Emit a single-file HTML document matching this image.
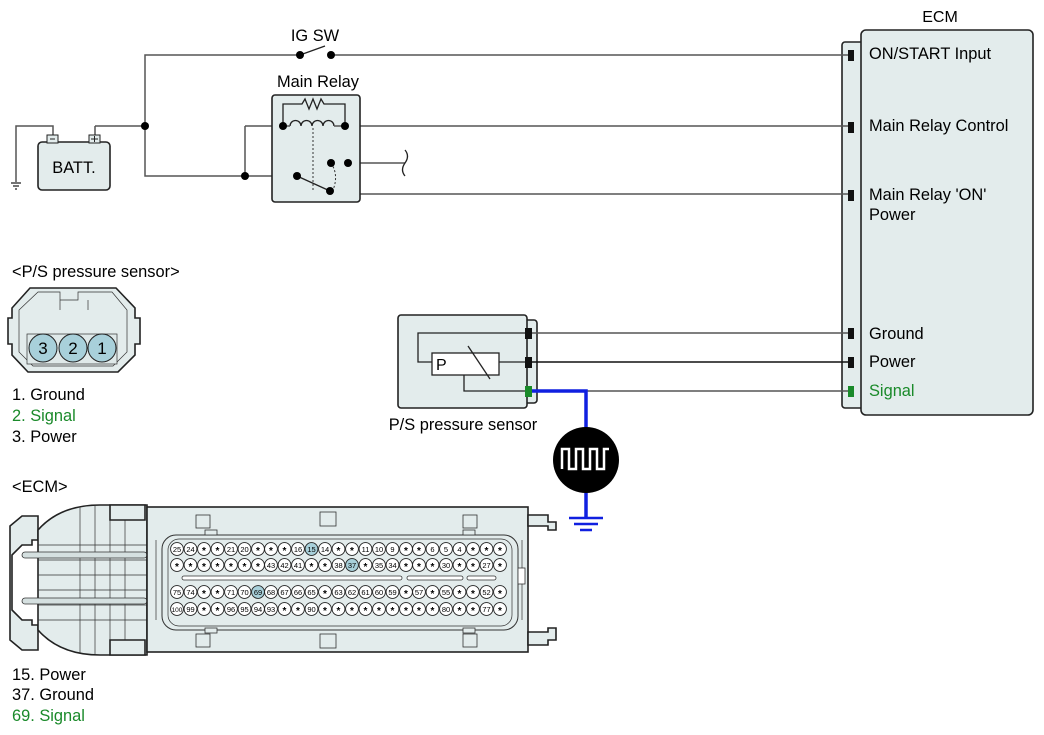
<!DOCTYPE html>
<html><head><meta charset="utf-8"><style>
html,body{margin:0;padding:0;background:#fff}
svg{display:block;font-family:"Liberation Sans",Arial,sans-serif}
.w{stroke:#555;stroke-width:1.5;fill:none}
.k{stroke:#222;stroke-width:1.3;fill:none}
.b{fill:#e3ecec;stroke:#222;stroke-width:1.6}
.p circle{fill:#fff;stroke:#222;stroke-width:0.9}
.p text{font-size:7.5px;text-anchor:middle}
.p text.s{font-size:10px;font-weight:bold}
.ln{stroke:#333;stroke-width:0.7;fill:none}
</style></head><body>
<svg width="1044" height="735" viewBox="0 0 1044 735" xmlns="http://www.w3.org/2000/svg">
<!-- ECM box -->
<rect x="842" y="42" width="24" height="366" rx="3" class="b" stroke-width="1"/>
<rect x="861" y="30" width="172" height="385" rx="5" class="b"/>
<text x="940" y="22" font-size="16" text-anchor="middle">ECM</text>
<g fill="#111"><rect x="848" y="50" width="6" height="11"/><rect x="848" y="122" width="6" height="11"/><rect x="848" y="190" width="6" height="11"/><rect x="848" y="328" width="6" height="11"/><rect x="848" y="357" width="6" height="11"/></g>
<rect x="848" y="386" width="6" height="11" fill="#1a8a2a"/>
<g font-size="16.4"><text x="869" y="59">ON/START Input</text><text x="869" y="131">Main Relay Control</text><text x="869" y="200">Main Relay 'ON'</text><text x="869" y="220">Power</text><text x="869" y="339">Ground</text><text x="869" y="367">Power</text><text x="869" y="396" fill="#1a8a2a">Signal</text></g>

<!-- IG SW -->
<text x="315" y="41" font-size="16.4" text-anchor="middle">IG SW</text>
<path class="w" d="M848 55H331M300 55H145V176H297M95 126H145M245 126V176M245 126H283M345 126H848M348 163H405M348 163V194H848"/>
<path class="k" d="M300 55L325 46"/>
<circle cx="300" cy="55" r="4"/><circle cx="331" cy="55" r="4"/>
<circle cx="145" cy="126" r="4"/><circle cx="245" cy="176" r="4"/>
<path d="M405 150q5 6 0 13t0 13" class="k"/>
<!-- relay -->
<text x="318" y="87" font-size="16.4" text-anchor="middle">Main Relay</text>
<rect x="272" y="95" width="88" height="107" rx="3" class="b"/>
<path class="k" d="M283 126V104H302l3-5 4 10 4-10 4 10 4-10 3 5H345V126"/>
<path class="k" d="M290 126a5.5 5.5 0 0 1 11 0a5.5 5.5 0 0 1 11 0a5.5 5.5 0 0 1 11 0a5.5 5.5 0 0 1 11 0"/>
<path class="w" d="M290 126H283M334 126H345"/>
<path d="M313 128V190" stroke="#333" stroke-dasharray="2,2" stroke-width="1"/>
<path d="M331 163q8 12 2 27" stroke="#333" stroke-dasharray="2,2" stroke-width="1" fill="none"/>
<path class="k" d="M297 176L330 191"/>
<g><circle cx="283" cy="126" r="4"/><circle cx="345" cy="126" r="4"/><circle cx="331" cy="163" r="4"/><circle cx="348" cy="163" r="4"/><circle cx="297" cy="176" r="4"/><circle cx="330" cy="191" r="4"/></g>
<!-- battery -->
<path class="w" d="M95 126V138M53 138V126H16V182"/>
<path class="k" d="M11 183H21M13 186H19M15 189H17"/>
<rect x="38" y="142" width="72" height="48" rx="4" class="b" stroke-width="1.2"/>
<rect x="47" y="135" width="11" height="8" fill="#e3ecec" stroke="#222"/>
<rect x="89" y="135" width="11" height="8" fill="#e3ecec" stroke="#222"/>
<path d="M50 139H55M91 139H98M94.5 136V142" stroke="#222"/>
<text x="74" y="173" font-size="16.4" text-anchor="middle">BATT.</text>

<!-- P/S sensor -->
<rect x="520" y="320" width="17" height="83" rx="3" class="b" stroke-width="1"/>
<rect x="398" y="315" width="129" height="93" rx="3" class="b"/>
<path class="w" d="M531 333H848M531 391H848"/>
<path d="M531 362H848" stroke="#111" stroke-width="1.5"/>
<path class="k" d="M526 333H418V362H432M499 362H526M464 375V391H526"/>
<rect x="432" y="353" width="67" height="22" fill="#fff" stroke="#222" stroke-width="1.3"/>
<text x="436" y="370" font-size="16">P</text>
<path class="k" d="M468 346L490 379"/>
<rect x="525" y="328" width="7" height="11" fill="#111"/><rect x="525" y="357" width="7" height="11" fill="#111"/><rect x="525" y="386" width="7" height="11" fill="#1a8a2a"/>
<text x="463" y="430" font-size="16.4" text-anchor="middle">P/S pressure sensor</text>
<path d="M532 391H586V517" stroke="#1020e0" stroke-width="3.5" fill="none"/>
<path d="M569 518H603M574 524H598M580 530H592" stroke="#1020e0" stroke-width="2.5"/>
<circle cx="586" cy="460" r="33" fill="#000"/>
<path d="M562 469V449H569V469H576V449H583V469H590V449H597V469H604V449H609" stroke="#fff" stroke-width="2.5" fill="none"/>

<!-- P/S connector view -->
<text x="12" y="277" font-size="16.4">&lt;P/S pressure sensor&gt;</text>
<path class="b" stroke-width="1" d="M30 288H116L135 308V318H140V344H135V355L118 372H28L12 355V344H8V318H12V308Z"/>
<path class="ln" d="M38 292H60V300H78V292H112L127 310V352L113 366H33L19 352V310ZM60 300V310M88 300V310"/>
<rect x="27" y="334" width="90" height="30" fill="#dfe9e9" stroke="#333" stroke-width="0.7"/>
<g fill="#a8d0da" stroke="#222" stroke-width="1"><circle cx="43" cy="348" r="14"/><circle cx="73" cy="348" r="14"/><circle cx="102" cy="348" r="14"/></g>
<g font-size="17" text-anchor="middle"><text x="43" y="354">3</text><text x="73" y="354">2</text><text x="102" y="354">1</text></g>
<g font-size="16.4"><text x="12" y="400">1. Ground</text><text x="12" y="421" fill="#1a8a2a">2. Signal</text><text x="12" y="442">3. Power</text><text x="12" y="492">&lt;ECM&gt;</text></g>

<!-- ECM connector -->
<path class="b" stroke-width="1" d="M22 516H38V540H32V545H22L12 555V610L22 620H32V625H38V650H22L10 640V526Z"/>
<path class="b" stroke-width="1" d="M38 530Q60 505 100 505H147V655H100Q60 655 38 630Z"/>
<path class="ln" d="M80 507V653M95 506V654M110 506V654M125 506V654M38 545H147M38 560H147M38 605H147M38 620H147M38 575H147M38 590H147"/>
<rect x="22" y="552" width="125" height="6" rx="3" fill="#d5e0e0" stroke="#333" stroke-width="0.8"/>
<rect x="22" y="598" width="125" height="6" rx="3" fill="#d5e0e0" stroke="#333" stroke-width="0.8"/>
<path class="b" stroke-width="0.8" d="M110 505H145V520H110ZM110 640H145V655H110Z"/>
<rect x="147" y="507" width="381" height="145" class="b" stroke-width="1"/>
<path class="b" stroke-width="1" d="M528 515H548V522H556V530H548V526H528ZM528 632H548V628H556V640H548V645H528Z"/>
<rect x="162" y="535" width="356" height="95" rx="14" fill="none" stroke="#333" stroke-width="1"/>
<rect x="168" y="539" width="344" height="87" rx="11" fill="none" stroke="#333" stroke-width="0.7"/>
<path class="ln" d="M156 540V620M522 540V620"/>
<rect x="518" y="568" width="7" height="16" fill="#fff" stroke="#333" stroke-width="0.8"/>
<g fill="#e3ecec" stroke="#333" stroke-width="0.8"><rect x="196" y="515" width="14" height="13"/><rect x="320" y="512" width="16" height="14"/><rect x="463" y="515" width="14" height="13"/><rect x="196" y="634" width="14" height="13"/><rect x="320" y="634" width="16" height="14"/><rect x="463" y="634" width="14" height="13"/><rect x="205" y="530" width="12" height="5"/><rect x="463" y="530" width="12" height="5"/><rect x="205" y="628" width="12" height="5"/><rect x="463" y="628" width="12" height="5"/></g>
<g fill="#fff" stroke="#333" stroke-width="0.8"><rect x="182" y="576" width="220" height="4" rx="2"/><rect x="407" y="576" width="56" height="4" rx="2"/><rect x="467" y="576" width="29" height="4" rx="2"/></g>

<g class="p">
<circle cx="177" cy="549" r="6.4"/><circle cx="190.5" cy="549" r="6.4"/><circle cx="204" cy="549" r="6.4"/><circle cx="217.5" cy="549" r="6.4"/><circle cx="231" cy="549" r="6.4"/><circle cx="244.5" cy="549" r="6.4"/><circle cx="258" cy="549" r="6.4"/><circle cx="271" cy="549" r="6.4"/><circle cx="284.5" cy="549" r="6.4"/><circle cx="298" cy="549" r="6.4"/><circle cx="311.5" cy="549" r="6.4" style="fill:#a8d0da"/><circle cx="325" cy="549" r="6.4"/><circle cx="338.5" cy="549" r="6.4"/><circle cx="352" cy="549" r="6.4"/><circle cx="365.5" cy="549" r="6.4"/><circle cx="379" cy="549" r="6.4"/><circle cx="392.5" cy="549" r="6.4"/><circle cx="406" cy="549" r="6.4"/><circle cx="419" cy="549" r="6.4"/><circle cx="432.5" cy="549" r="6.4"/><circle cx="446" cy="549" r="6.4"/><circle cx="459.5" cy="549" r="6.4"/><circle cx="473" cy="549" r="6.4"/><circle cx="486.5" cy="549" r="6.4"/><circle cx="500" cy="549" r="6.4"/>
<text x="177" y="552">25</text><text x="190.5" y="552">24</text><text class="s" x="204" y="554">*</text><text class="s" x="217.5" y="554">*</text><text x="231" y="552">21</text><text x="244.5" y="552">20</text><text class="s" x="258" y="554">*</text><text class="s" x="271" y="554">*</text><text class="s" x="284.5" y="554">*</text><text x="298" y="552">16</text><text x="311.5" y="552">15</text><text x="325" y="552">14</text><text class="s" x="338.5" y="554">*</text><text class="s" x="352" y="554">*</text><text x="365.5" y="552">11</text><text x="379" y="552">10</text><text x="392.5" y="552">9</text><text class="s" x="406" y="554">*</text><text class="s" x="419" y="554">*</text><text x="432.5" y="552">6</text><text x="446" y="552">5</text><text x="459.5" y="552">4</text><text class="s" x="473" y="554">*</text><text class="s" x="486.5" y="554">*</text><text class="s" x="500" y="554">*</text>
<circle cx="177" cy="565" r="6.4"/><circle cx="190.5" cy="565" r="6.4"/><circle cx="204" cy="565" r="6.4"/><circle cx="217.5" cy="565" r="6.4"/><circle cx="231" cy="565" r="6.4"/><circle cx="244.5" cy="565" r="6.4"/><circle cx="258" cy="565" r="6.4"/><circle cx="271" cy="565" r="6.4"/><circle cx="284.5" cy="565" r="6.4"/><circle cx="298" cy="565" r="6.4"/><circle cx="311.5" cy="565" r="6.4"/><circle cx="325" cy="565" r="6.4"/><circle cx="338.5" cy="565" r="6.4"/><circle cx="352" cy="565" r="6.4" style="fill:#a8d0da"/><circle cx="365.5" cy="565" r="6.4"/><circle cx="379" cy="565" r="6.4"/><circle cx="392.5" cy="565" r="6.4"/><circle cx="406" cy="565" r="6.4"/><circle cx="419" cy="565" r="6.4"/><circle cx="432.5" cy="565" r="6.4"/><circle cx="446" cy="565" r="6.4"/><circle cx="459.5" cy="565" r="6.4"/><circle cx="473" cy="565" r="6.4"/><circle cx="486.5" cy="565" r="6.4"/><circle cx="500" cy="565" r="6.4"/>
<text class="s" x="177" y="570">*</text><text class="s" x="190.5" y="570">*</text><text class="s" x="204" y="570">*</text><text class="s" x="217.5" y="570">*</text><text class="s" x="231" y="570">*</text><text class="s" x="244.5" y="570">*</text><text class="s" x="258" y="570">*</text><text x="271" y="568">43</text><text x="284.5" y="568">42</text><text x="298" y="568">41</text><text class="s" x="311.5" y="570">*</text><text class="s" x="325" y="570">*</text><text x="338.5" y="568">38</text><text x="352" y="568">37</text><text class="s" x="365.5" y="570">*</text><text x="379" y="568">35</text><text x="392.5" y="568">34</text><text class="s" x="406" y="570">*</text><text class="s" x="419" y="570">*</text><text class="s" x="432.5" y="570">*</text><text x="446" y="568">30</text><text class="s" x="459.5" y="570">*</text><text class="s" x="473" y="570">*</text><text x="486.5" y="568">27</text><text class="s" x="500" y="570">*</text>
<circle cx="177" cy="592" r="6.4"/><circle cx="190.5" cy="592" r="6.4"/><circle cx="204" cy="592" r="6.4"/><circle cx="217.5" cy="592" r="6.4"/><circle cx="231" cy="592" r="6.4"/><circle cx="244.5" cy="592" r="6.4"/><circle cx="258" cy="592" r="6.4" style="fill:#a8d0da"/><circle cx="271" cy="592" r="6.4"/><circle cx="284.5" cy="592" r="6.4"/><circle cx="298" cy="592" r="6.4"/><circle cx="311.5" cy="592" r="6.4"/><circle cx="325" cy="592" r="6.4"/><circle cx="338.5" cy="592" r="6.4"/><circle cx="352" cy="592" r="6.4"/><circle cx="365.5" cy="592" r="6.4"/><circle cx="379" cy="592" r="6.4"/><circle cx="392.5" cy="592" r="6.4"/><circle cx="406" cy="592" r="6.4"/><circle cx="419" cy="592" r="6.4"/><circle cx="432.5" cy="592" r="6.4"/><circle cx="446" cy="592" r="6.4"/><circle cx="459.5" cy="592" r="6.4"/><circle cx="473" cy="592" r="6.4"/><circle cx="486.5" cy="592" r="6.4"/><circle cx="500" cy="592" r="6.4"/>
<text x="177" y="595">75</text><text x="190.5" y="595">74</text><text class="s" x="204" y="597">*</text><text class="s" x="217.5" y="597">*</text><text x="231" y="595">71</text><text x="244.5" y="595">70</text><text x="258" y="595">69</text><text x="271" y="595">68</text><text x="284.5" y="595">67</text><text x="298" y="595">66</text><text x="311.5" y="595">65</text><text class="s" x="325" y="597">*</text><text x="338.5" y="595">63</text><text x="352" y="595">62</text><text x="365.5" y="595">61</text><text x="379" y="595">60</text><text x="392.5" y="595">59</text><text class="s" x="406" y="597">*</text><text x="419" y="595">57</text><text class="s" x="432.5" y="597">*</text><text x="446" y="595">55</text><text class="s" x="459.5" y="597">*</text><text class="s" x="473" y="597">*</text><text x="486.5" y="595">52</text><text class="s" x="500" y="597">*</text>
<circle cx="177" cy="609" r="6.4"/><circle cx="190.5" cy="609" r="6.4"/><circle cx="204" cy="609" r="6.4"/><circle cx="217.5" cy="609" r="6.4"/><circle cx="231" cy="609" r="6.4"/><circle cx="244.5" cy="609" r="6.4"/><circle cx="258" cy="609" r="6.4"/><circle cx="271" cy="609" r="6.4"/><circle cx="284.5" cy="609" r="6.4"/><circle cx="298" cy="609" r="6.4"/><circle cx="311.5" cy="609" r="6.4"/><circle cx="325" cy="609" r="6.4"/><circle cx="338.5" cy="609" r="6.4"/><circle cx="352" cy="609" r="6.4"/><circle cx="365.5" cy="609" r="6.4"/><circle cx="379" cy="609" r="6.4"/><circle cx="392.5" cy="609" r="6.4"/><circle cx="406" cy="609" r="6.4"/><circle cx="419" cy="609" r="6.4"/><circle cx="432.5" cy="609" r="6.4"/><circle cx="446" cy="609" r="6.4"/><circle cx="459.5" cy="609" r="6.4"/><circle cx="473" cy="609" r="6.4"/><circle cx="486.5" cy="609" r="6.4"/><circle cx="500" cy="609" r="6.4"/>
<text x="177" y="612" style="font-size:6.5px">100</text><text x="190.5" y="612">99</text><text class="s" x="204" y="614">*</text><text class="s" x="217.5" y="614">*</text><text x="231" y="612">96</text><text x="244.5" y="612">95</text><text x="258" y="612">94</text><text x="271" y="612">93</text><text class="s" x="284.5" y="614">*</text><text class="s" x="298" y="614">*</text><text x="311.5" y="612">90</text><text class="s" x="325" y="614">*</text><text class="s" x="338.5" y="614">*</text><text class="s" x="352" y="614">*</text><text class="s" x="365.5" y="614">*</text><text class="s" x="379" y="614">*</text><text class="s" x="392.5" y="614">*</text><text class="s" x="406" y="614">*</text><text class="s" x="419" y="614">*</text><text class="s" x="432.5" y="614">*</text><text x="446" y="612">80</text><text class="s" x="459.5" y="614">*</text><text class="s" x="473" y="614">*</text><text x="486.5" y="612">77</text><text class="s" x="500" y="614">*</text>
</g>

<g font-size="16.4"><text x="12" y="680">15. Power</text><text x="12" y="700">37. Ground</text><text x="12" y="721" fill="#1a8a2a">69. Signal</text></g>
</svg>
</body></html>
